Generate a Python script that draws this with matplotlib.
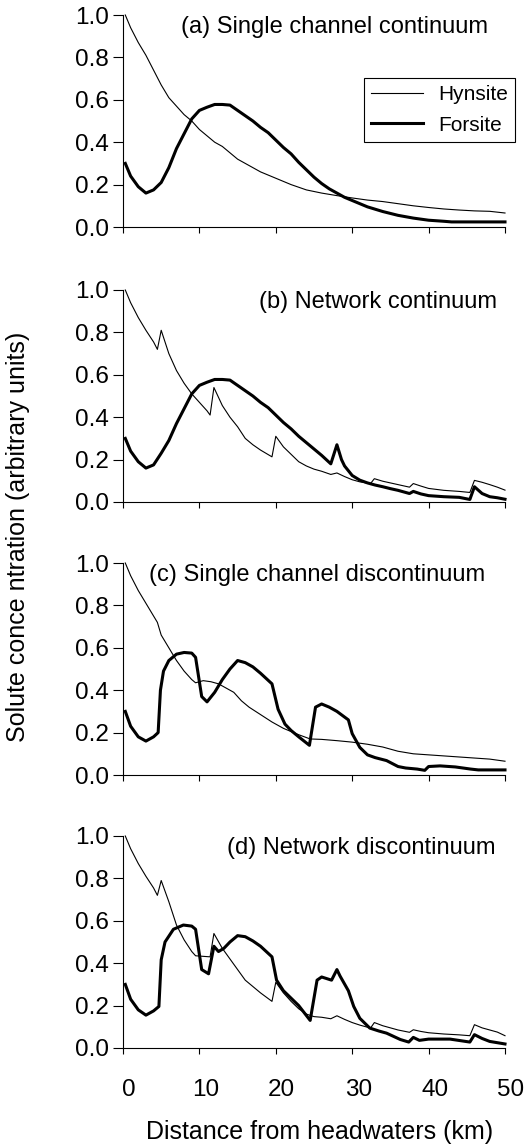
import matplotlib
matplotlib.use("Agg")
import matplotlib.pyplot as plt
import matplotlib.transforms as mtransforms

plt.rcParams['font.family'] = ['Liberation Sans', 'DejaVu Sans']

# panel (a) single channel continuum
ha_x = [0.3, 1, 2, 3, 4, 5, 6, 7, 8, 9, 10, 11, 12, 13, 14, 15, 16, 17, 18, 19, 20,
        22, 24, 26, 28, 30, 32, 34, 36, 38, 40, 42, 44, 46, 48, 50]
ha_y = [1.0, 0.94, 0.87, 0.81, 0.74, 0.67, 0.61, 0.57, 0.53, 0.50, 0.46, 0.43, 0.40,
        0.38, 0.35, 0.32, 0.30, 0.28, 0.26, 0.245, 0.23, 0.20, 0.175, 0.16, 0.148,
        0.137, 0.127, 0.12, 0.11, 0.10, 0.092, 0.085, 0.08, 0.076, 0.074, 0.066]
fa_x = [0.3, 1, 2, 3, 4, 5, 6, 7, 8, 9, 10, 11, 12, 13, 14, 15, 16, 17, 18, 19, 20,
        21, 22, 23, 24, 25, 26, 27, 28, 29, 30, 32, 34, 36, 38, 40, 42, 43, 50]
fa_y = [0.30, 0.24, 0.19, 0.16, 0.175, 0.21, 0.28, 0.37, 0.44, 0.51, 0.55, 0.565,
        0.578, 0.578, 0.575, 0.55, 0.525, 0.50, 0.47, 0.445, 0.41, 0.375, 0.345,
        0.305, 0.27, 0.235, 0.205, 0.18, 0.16, 0.14, 0.125, 0.095, 0.073, 0.055,
        0.042, 0.032, 0.027, 0.024, 0.024]

# panel (b) network continuum
hb_x = [0.3, 1, 2, 3, 4, 4.5, 5.0, 6, 7, 8, 9, 10, 11, 11.4, 11.9, 13, 14, 15, 16, 17,
        18, 19.5, 20.0, 21, 22, 23, 24, 25, 26, 27.2, 28.0, 29, 30, 31, 32.4, 32.9, 34,
        35, 36, 37.5, 38.0, 39, 40, 42, 44, 45.4, 46.0, 47, 48, 49, 50]
hb_y = [1.0, 0.94, 0.87, 0.81, 0.755, 0.72, 0.81, 0.70, 0.62, 0.56, 0.51, 0.47, 0.43,
        0.41, 0.54, 0.455, 0.40, 0.355, 0.30, 0.27, 0.245, 0.213, 0.31, 0.26, 0.225,
        0.19, 0.17, 0.155, 0.145, 0.13, 0.137, 0.12, 0.105, 0.095, 0.087, 0.11, 0.098,
        0.09, 0.082, 0.07, 0.087, 0.075, 0.064, 0.055, 0.05, 0.045, 0.102, 0.093,
        0.082, 0.07, 0.056]
fb_x = [0.3, 1, 2, 3, 4, 5, 6, 7, 8, 9, 10, 11, 12, 13, 14, 15, 16, 17, 18, 19, 20,
        21, 22, 23, 24, 25, 26, 27.2, 28.0, 28.6, 29, 30, 31, 32, 33, 34, 35, 36, 37.5,
        38.0, 39, 40, 42, 44, 45.4, 46.0, 47, 48, 49, 50]
fb_y = [0.30, 0.24, 0.19, 0.16, 0.175, 0.23, 0.29, 0.37, 0.44, 0.51, 0.55, 0.565,
        0.578, 0.578, 0.575, 0.55, 0.525, 0.50, 0.47, 0.445, 0.41, 0.375, 0.345, 0.31,
        0.28, 0.25, 0.22, 0.18, 0.27, 0.20, 0.17, 0.125, 0.103, 0.09, 0.08, 0.072,
        0.063, 0.055, 0.04, 0.05, 0.038, 0.03, 0.025, 0.022, 0.012, 0.072, 0.04,
        0.025, 0.02, 0.013]

# panel (c) single channel discontinuum
hc_x = [0.3, 1, 2, 3, 4, 4.5, 5, 6, 7, 8, 9, 9.5, 10.5, 11.5, 12.5, 13.5, 14.5, 15.5,
        16.5, 18, 19.5, 21, 23, 24.5, 26, 28, 30, 32, 34, 36, 38, 40, 42, 44, 46, 48, 50]
hc_y = [1.0, 0.94, 0.87, 0.81, 0.75, 0.72, 0.66, 0.60, 0.54, 0.49, 0.45, 0.435, 0.445,
        0.44, 0.43, 0.41, 0.39, 0.35, 0.32, 0.285, 0.25, 0.22, 0.19, 0.17, 0.168,
        0.162, 0.155, 0.145, 0.132, 0.112, 0.10, 0.095, 0.09, 0.085, 0.08, 0.075, 0.065]
fc_x = [0.3, 1, 2, 3, 4, 4.6, 4.9, 5.3, 6, 7, 8, 9, 9.5, 10.3, 11.0, 12, 13, 14, 15,
        16, 17, 18, 19.5, 20.3, 21.2, 22, 23, 24.4, 25.2, 26, 27, 28, 29.5, 30, 31, 32,
        33, 34.5, 36, 37, 38.5, 39.5, 40, 41.5, 43.5, 45.5, 46.5, 50]
fc_y = [0.30, 0.23, 0.18, 0.16, 0.18, 0.20, 0.40, 0.49, 0.54, 0.57, 0.578, 0.575,
        0.555, 0.37, 0.345, 0.39, 0.45, 0.50, 0.54, 0.53, 0.51, 0.48, 0.43, 0.31, 0.24,
        0.21, 0.18, 0.14, 0.32, 0.335, 0.32, 0.30, 0.26, 0.195, 0.13, 0.095, 0.082,
        0.068, 0.04, 0.033, 0.028, 0.022, 0.04, 0.043, 0.038, 0.028, 0.024, 0.024]

# panel (d) network discontinuum
hd_x = [0.3, 1, 2, 3, 4, 4.5, 5.0, 6, 7, 8, 9, 9.5, 11.4, 11.9, 13, 14, 15, 16, 17,
        18, 19.5, 20.0, 21, 22, 23, 24, 25, 26, 27.2, 28.0, 29, 30, 31, 32.4, 32.9, 34,
        35, 36, 37.5, 38.0, 39, 40, 42, 44, 45.4, 46.0, 47, 48, 49, 50]
hd_y = [1.0, 0.94, 0.87, 0.81, 0.755, 0.72, 0.79, 0.69, 0.58, 0.51, 0.455, 0.435,
        0.43, 0.54, 0.47, 0.42, 0.37, 0.32, 0.29, 0.26, 0.22, 0.31, 0.26, 0.22, 0.185,
        0.16, 0.148, 0.145, 0.138, 0.152, 0.135, 0.12, 0.108, 0.094, 0.12, 0.105,
        0.095, 0.085, 0.074, 0.086, 0.078, 0.072, 0.066, 0.062, 0.058, 0.11, 0.095,
        0.085, 0.075, 0.058]
fd_x = [0.3, 1, 2, 3, 4, 4.7, 5.0, 5.5, 6.6, 7.9, 9.0, 9.5, 10.3, 11.2, 11.9, 12.5,
        13.2, 14, 15, 16, 17, 18, 19.5, 20.1, 21, 22, 23, 24.5, 25.4, 26, 27.3, 28.0,
        28.4, 29.5, 30.2, 31, 32.3, 33.5, 34.5, 36.3, 37.4, 38, 38.8, 40, 42.8, 45.4,
        46, 47, 48, 50]
fd_y = [0.30, 0.23, 0.18, 0.155, 0.175, 0.196, 0.416, 0.50, 0.56, 0.58, 0.575, 0.56,
        0.37, 0.35, 0.48, 0.455, 0.47, 0.50, 0.53, 0.525, 0.505, 0.48, 0.43, 0.32,
        0.27, 0.235, 0.20, 0.13, 0.32, 0.335, 0.32, 0.37, 0.34, 0.27, 0.196, 0.14,
        0.094, 0.08, 0.07, 0.04, 0.028, 0.05, 0.036, 0.042, 0.042, 0.028, 0.063,
        0.045, 0.031, 0.019]

panels = [
    ("(a) Single channel continuum", ha_x, ha_y, fa_x, fa_y, 0.955),
    ("(b) Network continuum", hb_x, hb_y, fb_x, fb_y, 0.98),
    ("(c) Single channel discontinuum", hc_x, hc_y, fc_x, fc_y, 0.948),
    ("(d) Network discontinuum", hd_x, hd_y, fd_x, fd_y, 0.974),
]
yticks = [0.0, 0.2, 0.4, 0.6, 0.8, 1.0]
xticks = [0, 10, 20, 30, 40, 50]

W, H = 532, 1145
fig = plt.figure(figsize=(W / 100, H / 100), dpi=100)
tops = [15, 290, 563, 836]
ph = 212

axes = []
for i, (title, hx, hy, fx, fy, tx) in enumerate(panels):
    bottom = 1 - (tops[i] + ph) / H
    ax = fig.add_axes([123 / W, bottom, 382 / W, ph / H])
    ax.plot(hx, hy, color='black', lw=0.8, label='Hynsite', clip_on=False)
    ax.plot(fx, fy, color='black', lw=2.2, label='Forsite', clip_on=False)
    ax.set_xlim(0, 50)
    ax.set_ylim(0, 1)
    ax.set_xticks(xticks)
    ax.set_yticks(yticks)
    ax.set_yticklabels([f"{v:.1f}" for v in yticks])
    ax.spines['top'].set_visible(False)
    ax.spines['right'].set_visible(False)
    ax.spines['left'].set_linewidth(0.8)
    ax.spines['bottom'].set_linewidth(0.8)
    ax.tick_params(axis='y', direction='out', length=7, width=0.8, pad=3, labelsize=17.5)
    ax.tick_params(axis='x', direction='out', length=4.5, width=0.8, pad=18, labelsize=17.5)
    ax.text(tx, 0.943, title, transform=ax.transAxes, ha='right', va='center', fontsize=17)
    if i < 3:
        ax.set_xticklabels([])
    axes.append(ax)

# shift bottom tick labels slightly right, like the original
offset = mtransforms.ScaledTranslation(6 / 100, 0, fig.dpi_scale_trans)
for lab in axes[3].get_xticklabels():
    lab.set_transform(lab.get_transform() + offset)

leg = axes[0].legend(loc='upper right', bbox_to_anchor=(1.026, 0.703), borderaxespad=0,
                     fancybox=False, edgecolor='black', framealpha=1, fontsize=15,
                     handlelength=2.5, handletextpad=0.7, borderpad=0.35, labelspacing=0.55)
leg.get_frame().set_linewidth(0.8)

fig.text(320 / W, 1 - 1132 / H, "Distance from headwaters (km)", ha='center', va='center', fontsize=18)
fig.text(18 / W, 1 - 537 / H, "Solute conce ntration (arbitrary units)", ha='center', va='center',
         rotation=90, fontsize=18)

fig.savefig("out.png", dpi=100)
